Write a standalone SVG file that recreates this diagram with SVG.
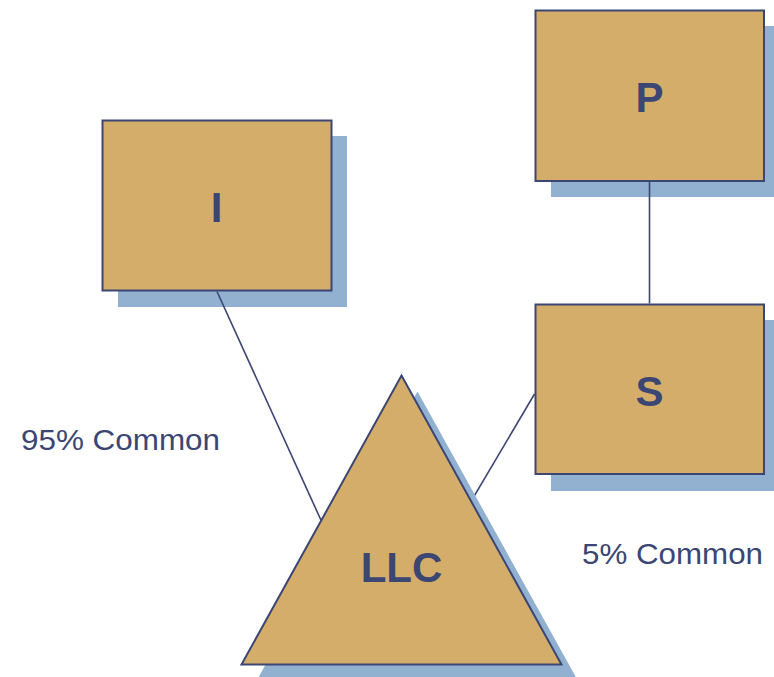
<svg xmlns="http://www.w3.org/2000/svg" width="774" height="677" viewBox="0 0 774 677">
  <style>
    .shadow { fill: #92b1d0; }
    .shape { fill: #d4ad6a; stroke: #3b4673; stroke-width: 2; }
    .link { stroke: #3b4673; stroke-width: 1.6; fill: none; }
    .name { font-family: "Liberation Sans", Arial, sans-serif; font-weight: bold; font-size: 42px; fill: #3b4673; text-anchor: middle; }
    .note { font-family: "Liberation Sans", Arial, sans-serif; font-size: 29px; fill: #3b4673; }
  </style>

  <g id="node-i">
    <rect class="shadow" x="118" y="136" width="229" height="171"/>
    <rect class="shape" x="102.5" y="120.5" width="229" height="170"/>
    <text class="name" x="216.5" y="222">I</text>
  </g>

  <g id="node-p">
    <rect class="shadow" x="551" y="26" width="229" height="171"/>
    <rect class="shape" x="535.5" y="10.5" width="228.5" height="170.5"/>
    <text class="name" x="649.5" y="112">P</text>
  </g>

  <g id="node-s">
    <rect class="shadow" x="551" y="320" width="229" height="171"/>
    <rect class="shape" x="535.5" y="304.5" width="228.5" height="169.5"/>
    <text class="name" x="649.5" y="406">S</text>
  </g>

  <!-- connectors run over the box shadows and tuck under the triangle -->
  <g id="connectors">
    <line class="link" x1="217" y1="291.5" x2="330" y2="540"/>
    <line class="link" x1="534.5" y1="394" x2="466" y2="510"/>
    <line class="link" x1="649.5" y1="181.5" x2="649.5" y2="303.5"/>
  </g>

  <g id="node-llc">
    <polygon class="shadow" points="417.5,391.5 577.5,680 257,680"/>
    <polygon class="shape" points="401.5,375.5 561.5,664.5 241.5,664.5"/>
    <text class="name" x="401.5" y="582">LLC</text>
  </g>

  <g id="labels">
    <text class="note" x="21" y="449.5" textLength="199" lengthAdjust="spacingAndGlyphs">95% Common</text>
    <text class="note" x="582" y="563.5" textLength="181" lengthAdjust="spacingAndGlyphs">5% Common</text>
  </g>
</svg>
